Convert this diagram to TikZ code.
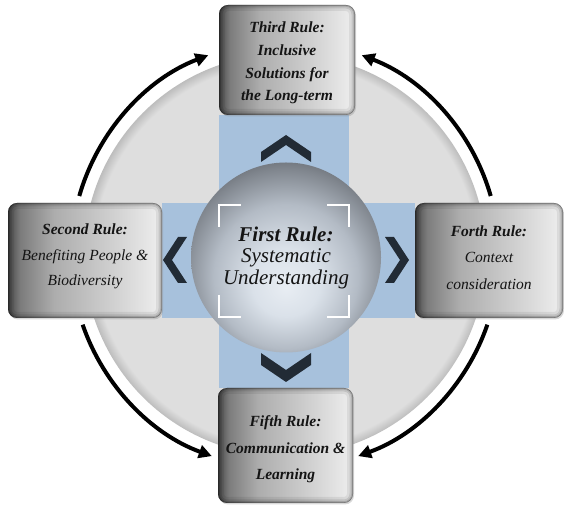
\documentclass[tikz,border=0pt]{standalone}
\usepackage{fontspec}
\setmainfont{Liberation Serif}
\usetikzlibrary{arrows.meta,shadows}
\definecolor{bandblue}{HTML}{A7C1DC}
\definecolor{chev}{HTML}{222B35}
\definecolor{diskA}{HTML}{DEDEDE}
\definecolor{diskB}{HTML}{BDBDBD}
\definecolor{bxA}{HTML}{4A4A4A}
\definecolor{bxB}{HTML}{7C7C7C}
\definecolor{bxC}{HTML}{ADADAD}
\definecolor{bxD}{HTML}{D2D2D2}
\definecolor{bxE}{HTML}{EFEFEF}
\definecolor{spA}{HTML}{E8EDF3}
\definecolor{spB}{HTML}{DAE1E9}
\definecolor{spC}{HTML}{B3BBC5}
\definecolor{spD}{HTML}{80868E}
\definecolor{spE}{HTML}{5C6066}
\definecolor{txt}{HTML}{141414}
\pgfdeclareradialshading{diskshade}{\pgfpointorigin}{color(0bp)=(diskA); color(23.8bp)=(diskA); color(25bp)=(diskB); color(50bp)=(diskB)}
\pgfdeclarehorizontalshading{boxshade}{100bp}{color(0bp)=(bxA); color(25bp)=(bxA); color(29bp)=(bxB); color(40bp)=(bxC); color(60bp)=(bxD); color(75bp)=(bxE); color(100bp)=(bxE)}
\pgfdeclareradialshading{sphshade}{\pgfpoint{0bp}{-8bp}}{color(0bp)=(spA); color(9bp)=(spB); color(19bp)=(spC); color(27bp)=(spD); color(32bp)=(spE); color(50bp)=(spE)}
\begin{document}
\begin{tikzpicture}[x=1pt,y=1pt,
  rulebox/.style={shade, shading=boxshade, rounded corners=9pt, inner sep=0pt,
    drop shadow={shadow xshift=1pt, shadow yshift=-1.5pt, opacity=0.3},
    path picture={
      \foreach \w/\o in {12/0.07,7/0.1,3.5/0.14,1.2/0.3}{
        \draw[line width=\w pt, black, opacity=\o, rounded corners=9pt]
          (path picture bounding box.south west) rectangle (path picture bounding box.north east);}
    }},
  ruletext/.style={inner sep=0pt, align=center, text=txt, font=\itshape\fontsize{15.5}{25.5}\selectfont},
  chevron/.style={fill=chev},
  bracket/.style={draw=white, line width=2pt},
  flowarrow/.style={draw=black, line width=4pt, -{Triangle[length=13pt,width=13pt]}}
]
\useasboundingbox (0,0) rectangle (564,505);
\fill[white] (0,0) rectangle (564,505);

% big disk
\coordinate (O) at (285,250);
\shade[shading=diskshade] (O) circle[radius=201pt];

% blue bands
\fill[bandblue] (219,117) rectangle (349,390);
\fill[bandblue] (162,187) rectangle (415,302);

% chevrons
\fill[chevron] (261,353) -- (286,370) -- (311,353) -- (311,343) -- (286,360) -- (261,343) -- cycle;
\fill[chevron] (261,152) -- (286,135) -- (311,152) -- (311,140) -- (286,123) -- (261,140) -- cycle;
\fill[chevron] (178,268) -- (163,245) -- (178,222) -- (187,222) -- (172,245) -- (187,268) -- cycle;
\fill[chevron] (394,268) -- (409,245) -- (394,222) -- (385,222) -- (400,245) -- (385,268) -- cycle;

% central sphere
\node[circle, minimum size=190pt, inner sep=0pt, shade, shading=sphshade,
      align=center, text=txt, font=\itshape\fontsize{21}{21.5}\selectfont] (first) at (286,247.5)
  {{\bfseries First Rule:}\\Systematic\\Understanding};

% corner brackets
\draw[bracket] (219,278) -- (219,300) -- (241,300);
\draw[bracket] (327,300) -- (349,300) -- (349,278);
\draw[bracket] (219,210) -- (219,188) -- (241,188);
\draw[bracket] (327,188) -- (349,188) -- (349,210);

% rule boxes
\node[rulebox, minimum width=136pt, minimum height=110pt] (third) at (287,445) {};
\node[rulebox, minimum width=154pt, minimum height=115pt] (second) at (85,244.5) {};
\node[rulebox, minimum width=148pt, minimum height=115pt] (forth) at (489,244.5) {};
\node[rulebox, minimum width=135pt, minimum height=115pt] (fifth) at (285.5,59.5) {};

\node[ruletext, font=\itshape\bfseries\fontsize{15.5}{22.8}\selectfont] (thirdT) at ([yshift=-3pt]third.center)
  {Third Rule:\\Inclusive\\Solutions for\\the Long-term};
\node[ruletext] (secondT) at ([yshift=4pt]second.center)
  {{\bfseries Second Rule:}\\Benefiting People \&\\Biodiversity};
\node[ruletext, font=\itshape\fontsize{15.5}{26.5}\selectfont] (forthT) at ([yshift=3pt]forth.center)
  {{\bfseries Forth Rule:}\\Context\\consideration};
\node[ruletext, font=\itshape\bfseries\fontsize{15.5}{26.5}\selectfont] (fifthT) at ([yshift=-4pt]fifth.center)
  {Fifth Rule:\\Communication \&\\Learning};

% curved arrows
\coordinate (tlS) at ([shift={(164:214)}]O);
\coordinate (trS) at ([shift={(16:214)}]O);
\coordinate (blS) at ([shift={(199:214)}]O);
\coordinate (brS) at ([shift={(-19:214)}]O);
\draw[flowarrow] (tlS) arc[start angle=164, end angle=111, radius=214pt];
\draw[flowarrow] (trS) arc[start angle=16, end angle=69, radius=214pt];
\draw[flowarrow] (blS) arc[start angle=199, end angle=250, radius=214pt];
\draw[flowarrow] (brS) arc[start angle=-19, end angle=-70, radius=214pt];
\end{tikzpicture}
\end{document}
